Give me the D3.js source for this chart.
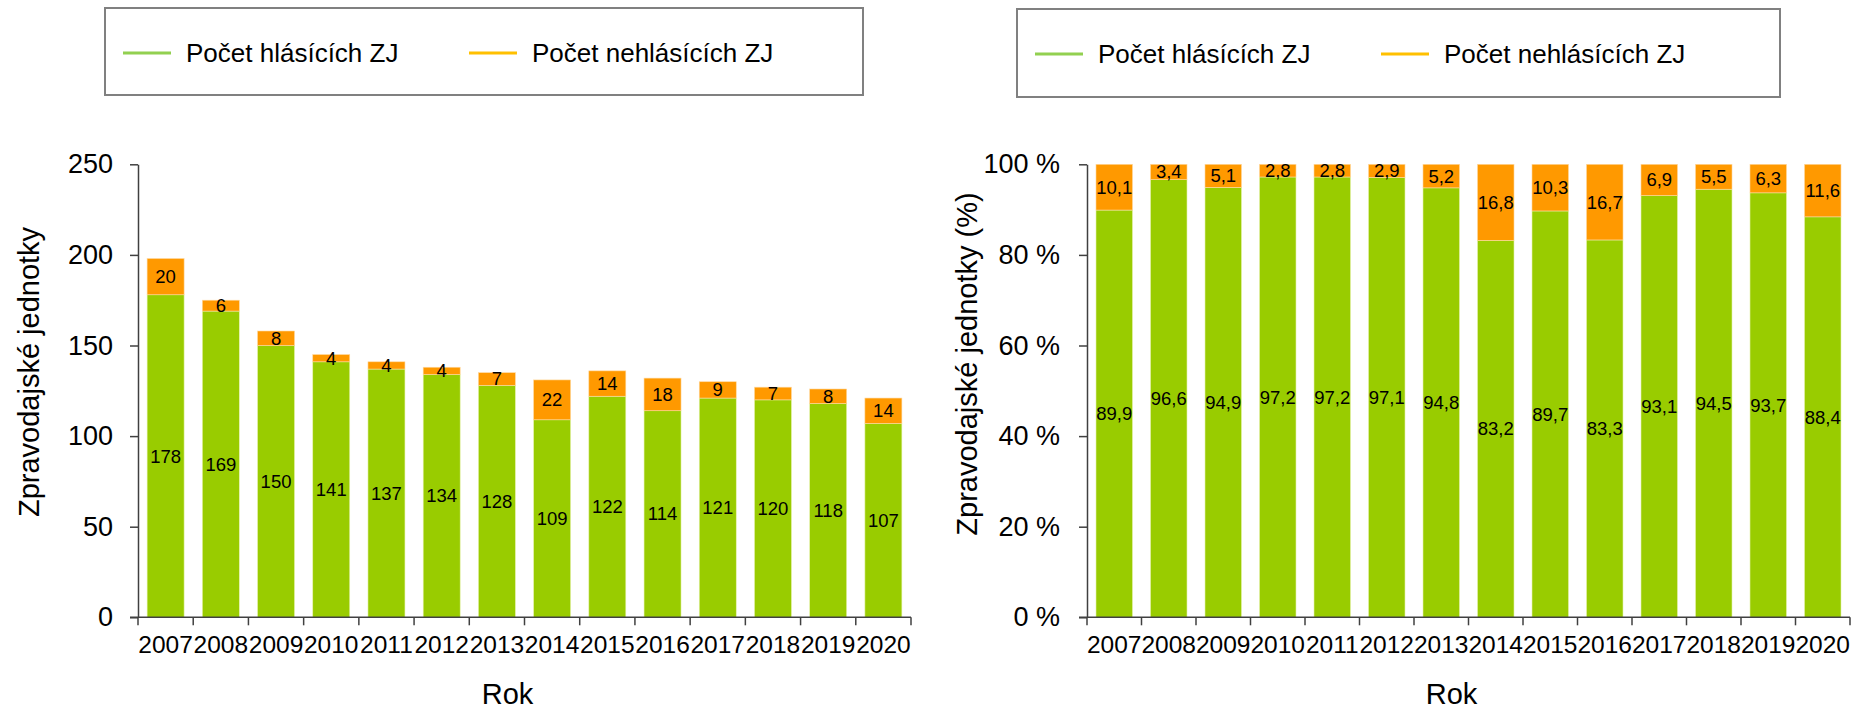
<!DOCTYPE html>
<html>
<head>
<meta charset="utf-8">
<script src="https://cdn.jsdelivr.net/npm/d3@7"></script>
<style>
  body { margin: 0; background: #fff; }
  svg { display: block; font-family: "Liberation Sans", Arial, sans-serif; }
</style>
</head>
<body>
<svg id="chart" width="1861" height="715"></svg>
<script>
const years = ["2007", "2008", "2009", "2010", "2011", "2012", "2013", "2014", "2015", "2016", "2017", "2018", "2019", "2020"];
const reportingCount = [178, 169, 150, 141, 137, 134, 128, 109, 122, 114, 121, 120, 118, 107];
const nonReportingCount = [20, 6, 8, 4, 4, 4, 7, 22, 14, 18, 9, 7, 8, 14];
const reportingPct = [89.9, 96.6, 94.9, 97.2, 97.2, 97.1, 94.8, 83.2, 89.7, 83.3, 93.1, 94.5, 93.7, 88.4];
const nonReportingPct = [10.1, 3.4, 5.1, 2.8, 2.8, 2.9, 5.2, 16.8, 10.3, 16.7, 6.9, 5.5, 6.3, 11.6];
const countTicks = [0, 50, 100, 150, 200, 250];
const pctTicks = [0, 20, 40, 60, 80, 100];
const seriesNames = ["Počet hlásících ZJ", "Počet nehlásících ZJ"];

const barColors = ["#99cc00", "#ff9900"];
const legendColors = ["#92d050", "#ffc000"];
const axisColor = "#404040";

const svg = d3.select("#chart");
const comma = v => String(v).replace(".", ",");

function drawLegend(box) {
    const g = svg.append("g");
    g.append("rect")
        .attr("x", box.x).attr("y", box.y)
        .attr("width", box.w).attr("height", box.h)
        .attr("fill", "#fff")
        .attr("stroke", "#808080")
        .attr("stroke-width", 2);
    seriesNames.forEach((name, i) => {
        const x0 = box.x + 18 + i * 346;
        g.append("line")
            .attr("x1", x0).attr("x2", x0 + 48)
            .attr("y1", box.y + 45).attr("y2", box.y + 45)
            .attr("stroke", legendColors[i])
            .attr("stroke-width", 3);
        g.append("text")
            .attr("x", x0 + 63).attr("y", box.y + 45)
            .attr("dy", "0.35em")
            .attr("font-size", 26)
            .attr("fill", "#000")
            .text(name);
    });
}

// oba grafy maji stejnou stavbu, lisi se jen daty a osou y
function drawChart(opts) {
    const g = svg.append("g");
    const x = d3.scaleBand()
        .domain(years)
        .range([opts.left, opts.right])
        .paddingInner(0.33)
        .paddingOuter(0.165);
    const band = d3.scaleBand().domain(years).range([opts.left, opts.right]);
    const y = d3.scaleLinear().domain([0, opts.max]).range([617.3, 164.3]);

    const rows = years.map((yr, i) => ({ year: yr, a: opts.low[i], b: opts.high[i] }));

    // zelena cast
    g.selectAll(".low")
        .data(rows)
        .enter()
        .append("rect")
        .attr("class", "low")
        .attr("x", d => x(d.year))
        .attr("width", x.bandwidth())
        .attr("y", d => y(d.a))
        .attr("height", d => y(0) - y(d.a))
        .attr("fill", barColors[0])
        .attr("stroke", "#e8f2b0")
        .attr("stroke-width", 0.6);

    // oranzova cast
    g.selectAll(".high")
        .data(rows)
        .enter()
        .append("rect")
        .attr("class", "high")
        .attr("x", d => x(d.year))
        .attr("width", x.bandwidth())
        .attr("y", d => y(d.a + d.b))
        .attr("height", d => y(d.a) - y(d.a + d.b))
        .attr("fill", barColors[1])
        .attr("stroke", "#ffd9a0")
        .attr("stroke-width", 0.6);

    g.selectAll(".lowLabel")
        .data(rows)
        .enter()
        .append("text")
        .attr("x", d => x(d.year) + x.bandwidth() / 2)
        .attr("y", d => (y(0) + y(d.a)) / 2)
        .attr("dy", "0.35em")
        .attr("text-anchor", "middle")
        .attr("font-size", 18.5)
        .text(d => opts.fmt(d.a));

    g.selectAll(".highLabel")
        .data(rows)
        .enter()
        .append("text")
        .attr("x", d => x(d.year) + x.bandwidth() / 2)
        .attr("y", d => (y(d.a) + y(d.a + d.b)) / 2)
        .attr("dy", "0.35em")
        .attr("text-anchor", "middle")
        .attr("font-size", 18.5)
        .text(d => opts.fmt(d.b));

    // osa y
    const yAxis = g.append("g")
        .attr("transform", `translate(${opts.left},0)`)
        .call(d3.axisLeft(y).tickValues(opts.ticks).tickSize(8).tickSizeOuter(0).tickPadding(opts.tickPad).tickFormat(opts.tickFmt));
    yAxis.select(".domain").attr("stroke", axisColor).attr("stroke-width", 1.5);
    yAxis.selectAll(".tick line").attr("stroke", axisColor).attr("stroke-width", 1.5);
    yAxis.selectAll(".tick text")
        .attr("font-size", 27)
        .attr("font-family", "Liberation Sans, Arial, sans-serif")
        .attr("fill", "#000");

    // osa x - carky na hranicich kategorii
    const edges = years.map(yr => band(yr)).concat([opts.right]);
    g.append("line")
        .attr("x1", opts.left - 8).attr("x2", opts.right)
        .attr("y1", y(0)).attr("y2", y(0))
        .attr("stroke", axisColor).attr("stroke-width", 1.5);
    g.selectAll(".xtick")
        .data(edges)
        .enter()
        .append("line")
        .attr("x1", d => d).attr("x2", d => d)
        .attr("y1", y(0)).attr("y2", y(0) + 8)
        .attr("stroke", axisColor).attr("stroke-width", 1.5);
    g.selectAll(".xlabel")
        .data(years)
        .enter()
        .append("text")
        .attr("x", d => band(d) + band.bandwidth() / 2)
        .attr("y", 644)
        .attr("dy", "0.35em")
        .attr("text-anchor", "middle")
        .attr("font-size", 24.5)
        .text(d => d);

    g.append("text")
        .attr("x", (opts.left + opts.right) / 2 - 17)
        .attr("y", 694)
        .attr("dy", "0.35em")
        .attr("text-anchor", "middle")
        .attr("font-size", 29)
        .text("Rok");

    g.append("text")
        .attr("transform", `translate(${opts.titleX},${opts.titleY}) rotate(-90)`)
        .attr("dy", "0.35em")
        .attr("text-anchor", "middle")
        .attr("font-size", 29)
        .text(opts.title);
}

drawLegend({ x: 105, y: 8, w: 758, h: 87 });
drawLegend({ x: 1017, y: 9, w: 763, h: 88 });

drawChart({
    left: 138, right: 911,
    max: 250, ticks: countTicks,
    low: reportingCount, high: nonReportingCount,
    fmt: v => v, tickFmt: d => d, tickPad: 17,
    title: "Zpravodajské jednotky", titleX: 29, titleY: 372
});

drawChart({
    left: 1087, right: 1850,
    max: 100, ticks: pctTicks,
    low: reportingPct, high: nonReportingPct,
    fmt: v => comma(v.toFixed(1)), tickFmt: d => d + " %", tickPad: 19,
    title: "Zpravodajské jednotky (%)", titleX: 967, titleY: 364
});
</script>
</body>
</html>
